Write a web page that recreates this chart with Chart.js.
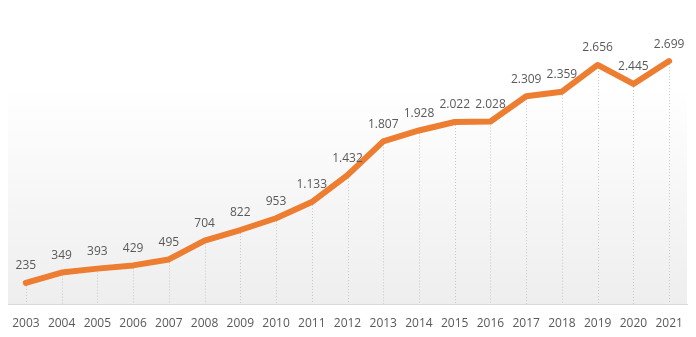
<!DOCTYPE html>
<html>
<head>
<meta charset="utf-8">
<script src="https://cdn.jsdelivr.net/npm/chart.js@4"></script>
<style>
  html, body { margin: 0; padding: 0; background: #fff; }
  #wrap { width: 696px; height: 337px; }
</style>
</head>
<body>
<div id="wrap"><canvas id="myChart"></canvas></div>
<script>
var years = ["2003","2004","2005","2006","2007","2008","2009","2010","2011","2012",
             "2013","2014","2015","2016","2017","2018","2019","2020","2021"];
var values = [235, 349, 393, 429, 495, 704, 822, 953, 1133, 1432,
              1807, 1928, 2022, 2028, 2309, 2359, 2656, 2445, 2699];

function fmt(v) {
  // dot as thousands separator
  return String(v).replace(/\B(?=(\d{3})+(?!\d))/g, ".");
}

// grey gradient behind the plot + dotted drop lines from each point
var backdrop = {
  id: 'backdrop',
  beforeDatasetsDraw: function(chart) {
    var c = chart.ctx, a = chart.chartArea;
    var g = c.createLinearGradient(0, a.top, 0, a.bottom);
    g.addColorStop(0, "#ffffff");
    g.addColorStop(0.2, "#ffffff");
    g.addColorStop(1, "#eeeeee");
    c.save();
    c.fillStyle = g;
    c.fillRect(a.left, a.top, a.right - a.left, a.bottom - a.top);

    var pts = chart.getDatasetMeta(0).data;
    c.strokeStyle = "#c8c8c8";
    c.lineWidth = 1;
    c.setLineDash([1, 2]);
    pts.forEach(function(p) {
      var x = Math.round(p.x) + 0.5;
      c.beginPath();
      c.moveTo(x, p.y);
      c.lineTo(x, a.bottom);
      c.stroke();
    });
    c.restore();
  },
  afterDatasetsDraw: function(chart) {
    var c = chart.ctx;
    var pts = chart.getDatasetMeta(0).data;
    c.save();
    c.fillStyle = "#595959";
    c.font = "12px 'Open Sans'";
    c.textAlign = "center";
    c.textBaseline = "middle";
    pts.forEach(function(p, i) {
      c.fillText(fmt(values[i]), p.x, p.y - 17);
    });
    c.restore();
  }
};

var ctx = document.getElementById("myChart").getContext('2d');
var myChart = new Chart(ctx, {
  type: 'line',
  data: {
    labels: years,
    datasets: [{
      data: values,
      borderColor: "#ED7D31",
      borderWidth: 6,
      borderCapStyle: 'round',
      borderJoinStyle: 'round',
      tension: 0,
      pointRadius: 0,
      fill: false
    }]
  },
  options: {
    responsive: true,
    maintainAspectRatio: false,
    animation: false,
    layout: { padding: { left: 6, right: 9, top: 34, bottom: 0 } },
    plugins: {
      legend: { display: false },
      tooltip: { enabled: false }
    },
    scales: {
      x: {
        offset: true,
        grid: { display: false, drawTicks: false },
        border: { display: true, color: "#d9d9d9", width: 1 },
        ticks: {
          color: "#595959",
          font: { family: "'Open Sans'", size: 12 },
          padding: 12,
          maxRotation: 0,
          autoSkip: false
        },
        afterFit: function(s) { s.height = 33; }
      },
      y: {
        display: false,
        min: 0,
        max: 3000
      }
    }
  },
  plugins: [backdrop]
});
</script>
</body>
</html>
